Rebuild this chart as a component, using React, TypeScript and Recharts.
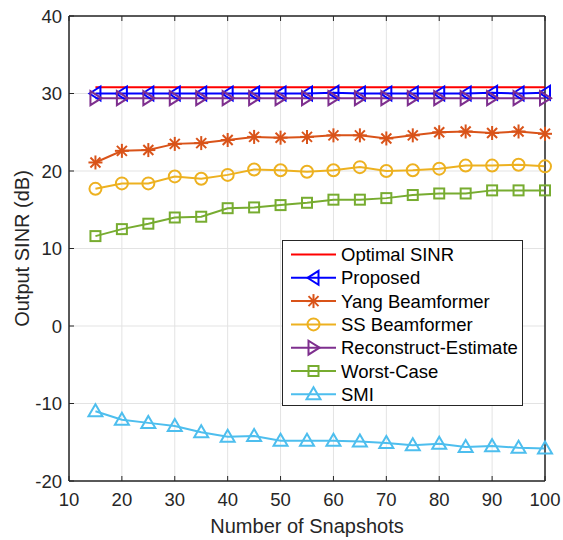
import React from 'react';
import {
  LineChart,
  Line,
  XAxis,
  YAxis,
  CartesianGrid,
  Legend,
  ReferenceArea,
} from 'recharts';

const snapshots = [15, 20, 25, 30, 35, 40, 45, 50, 55, 60, 65, 70, 75, 80, 85, 90, 95, 100];

const optimalSinr = [30.8, 30.8, 30.8, 30.8, 30.8, 30.8, 30.8, 30.8, 30.8, 30.8, 30.8, 30.8, 30.8, 30.8, 30.8, 30.8, 30.8, 30.8];
const proposed = [30.0, 30.0, 30.0, 30.0, 30.0, 30.0, 30.0, 30.0, 30.0, 30.1, 30.0, 30.0, 30.0, 30.0, 30.0, 30.1, 30.0, 30.1];
const yang = [21.1, 22.6, 22.7, 23.5, 23.6, 24.0, 24.4, 24.3, 24.4, 24.6, 24.6, 24.2, 24.6, 25.0, 25.1, 24.9, 25.1, 24.8];
const ss = [17.7, 18.4, 18.4, 19.3, 19.0, 19.5, 20.2, 20.1, 19.9, 20.1, 20.5, 20.0, 20.1, 20.3, 20.7, 20.7, 20.8, 20.6];
const reconstruct = [29.4, 29.4, 29.4, 29.4, 29.4, 29.4, 29.4, 29.4, 29.4, 29.4, 29.4, 29.4, 29.4, 29.4, 29.4, 29.4, 29.4, 29.4];
const worstCase = [11.6, 12.5, 13.2, 14.0, 14.1, 15.2, 15.3, 15.6, 15.9, 16.3, 16.3, 16.5, 16.9, 17.1, 17.1, 17.5, 17.5, 17.5];
const smi = [-11.0, -12.1, -12.5, -12.9, -13.7, -14.3, -14.2, -14.8, -14.8, -14.8, -14.9, -15.1, -15.4, -15.2, -15.6, -15.5, -15.7, -15.8];

const xTicks = [10, 20, 30, 40, 50, 60, 70, 80, 90, 100];
const yTicks = [-20, -10, 0, 10, 20, 30, 40];

type Shape = 'none' | 'left' | 'right' | 'up' | 'star' | 'circle' | 'square';

const series: { key: string; name: string; color: string; shape: Shape; values: number[] }[] = [
  { key: 'opt', name: 'Optimal SINR', color: '#ff0000', shape: 'none', values: optimalSinr },
  { key: 'prop', name: 'Proposed', color: '#0000ff', shape: 'left', values: proposed },
  { key: 'yang', name: 'Yang Beamformer', color: '#d95319', shape: 'star', values: yang },
  { key: 'ss', name: 'SS Beamformer', color: '#edb120', shape: 'circle', values: ss },
  { key: 'rec', name: 'Reconstruct-Estimate', color: '#7e2f8e', shape: 'right', values: reconstruct },
  { key: 'wc', name: 'Worst-Case', color: '#77ac30', shape: 'square', values: worstCase },
  { key: 'smi', name: 'SMI', color: '#4dbeee', shape: 'up', values: smi },
];

const data = snapshots.map((n, i) => {
  const row: Record<string, number> = { n };
  series.forEach((s) => {
    row[s.key] = s.values[i];
  });
  return row;
});

const FONT = 'Arial, "Liberation Sans", Helvetica, sans-serif';
const AXIS = '#262626';

function markerShape(shape: Shape, cx: number, cy: number, color: string, k?: string | number) {
  const common = { stroke: color, strokeWidth: 2, fill: 'none', key: k };
  switch (shape) {
    case 'left':
      return <polygon {...common} points={`${cx - 6},${cy} ${cx + 5},${cy - 7} ${cx + 5},${cy + 7}`} />;
    case 'right':
      return <polygon {...common} points={`${cx + 6},${cy} ${cx - 5},${cy - 7} ${cx - 5},${cy + 7}`} />;
    case 'up':
      return <polygon {...common} points={`${cx},${cy - 7} ${cx - 7},${cy + 5} ${cx + 7},${cy + 5}`} />;
    case 'circle':
      return <circle {...common} cx={cx} cy={cy} r={6} />;
    case 'square':
      return <rect {...common} x={cx - 5} y={cy - 5} width={10} height={10} />;
    case 'star':
      return (
        <g key={k} stroke={color} strokeWidth={2}>
          <line x1={cx} y1={cy - 7} x2={cx} y2={cy + 7} />
          <line x1={cx - 7} y1={cy} x2={cx + 7} y2={cy} />
          <line x1={cx - 5} y1={cy - 5} x2={cx + 5} y2={cy + 5} />
          <line x1={cx - 5} y1={cy + 5} x2={cx + 5} y2={cy - 5} />
        </g>
      );
    default:
      return <g key={k} />;
  }
}

const LegendBox = () => (
  <div
    style={{
      width: 241,
      height: 166,
      border: '1px solid #262626',
      background: '#ffffff',
      boxSizing: 'border-box',
    }}
  >
    <svg width={239} height={164} style={{ display: 'block' }}>
      {series.map((s, i) => {
        const y = 13.5 + i * 23.3;
        return (
          <g key={s.key}>
            <line x1={8} x2={53} y1={y} y2={y} stroke={s.color} strokeWidth={2} />
            {markerShape(s.shape, 30.5, y, s.color)}
            <text x={58} y={y + 6.5} fontSize={18.5} fontFamily={FONT} fill="#000">
              {s.name}
            </text>
          </g>
        );
      })}
    </svg>
  </div>
);

const App: React.FC = () => {
  return (
    <div style={{ position: 'absolute', left: 0, top: 0, background: '#fff' }}>
      <LineChart
        width={563}
        height={540}
        data={data}
        margin={{ top: 15, right: 17, left: 0, bottom: 0 }}
        style={{ fontFamily: FONT }}
      >
        <CartesianGrid stroke="#e3e3e3" strokeWidth={1} xAxisId="b" yAxisId="l" />
        <XAxis
          xAxisId="b"
          dataKey="n"
          type="number"
          domain={[10, 100]}
          ticks={xTicks}
          height={59}
          stroke={AXIS}
          tickSize={-5}
          tickMargin={17}
          tick={{ fill: AXIS, fontSize: 18.5 }}
          label={{ value: 'Number of Snapshots', position: 'insideBottom', offset: 7, fill: AXIS, fontSize: 20 }}
        />
        <XAxis
          xAxisId="t"
          orientation="top"
          dataKey="n"
          type="number"
          domain={[10, 100]}
          ticks={xTicks}
          height={1}
          stroke={AXIS}
          tickSize={-5}
          tickFormatter={() => ''}
        />
        <YAxis
          yAxisId="l"
          type="number"
          domain={[-20, 40]}
          ticks={yTicks}
          width={69}
          stroke={AXIS}
          tickSize={-5}
          tickMargin={12}
          tick={{ fill: AXIS, fontSize: 18.5 }}
          label={{
            value: 'Output SINR (dB)',
            angle: -90,
            position: 'insideLeft',
            offset: 22,
            fill: AXIS,
            fontSize: 20,
            style: { textAnchor: 'middle' },
          }}
        />
        <YAxis
          yAxisId="r"
          orientation="right"
          type="number"
          domain={[-20, 40]}
          ticks={yTicks}
          width={1}
          stroke={AXIS}
          tickSize={-5}
          tickFormatter={() => ''}
        />
        <ReferenceArea
          xAxisId="b"
          yAxisId="l"
          x1={10}
          x2={100}
          y1={-20}
          y2={40}
          fill="none"
          stroke={AXIS}
          strokeWidth={1}
          ifOverflow="visible"
        />
        {series.map((s) => (
          <Line
            key={s.key}
            xAxisId="b"
            yAxisId="l"
            type="linear"
            dataKey={s.key}
            name={s.name}
            stroke={s.color}
            strokeWidth={2}
            isAnimationActive={false}
            activeDot={false}
            dot={
              s.shape === 'none'
                ? false
                : (p: any) => markerShape(s.shape, p.cx, p.cy, s.color, `${s.key}-${p.index}`)
            }
          />
        ))}
        <Legend
          layout="vertical"
          verticalAlign="middle"
          align="center"
          wrapperStyle={{ left: 282, top: 240, width: 241, height: 166 }}
          content={() => <LegendBox />}
        />
      </LineChart>
    </div>
  );
};

export default App;
